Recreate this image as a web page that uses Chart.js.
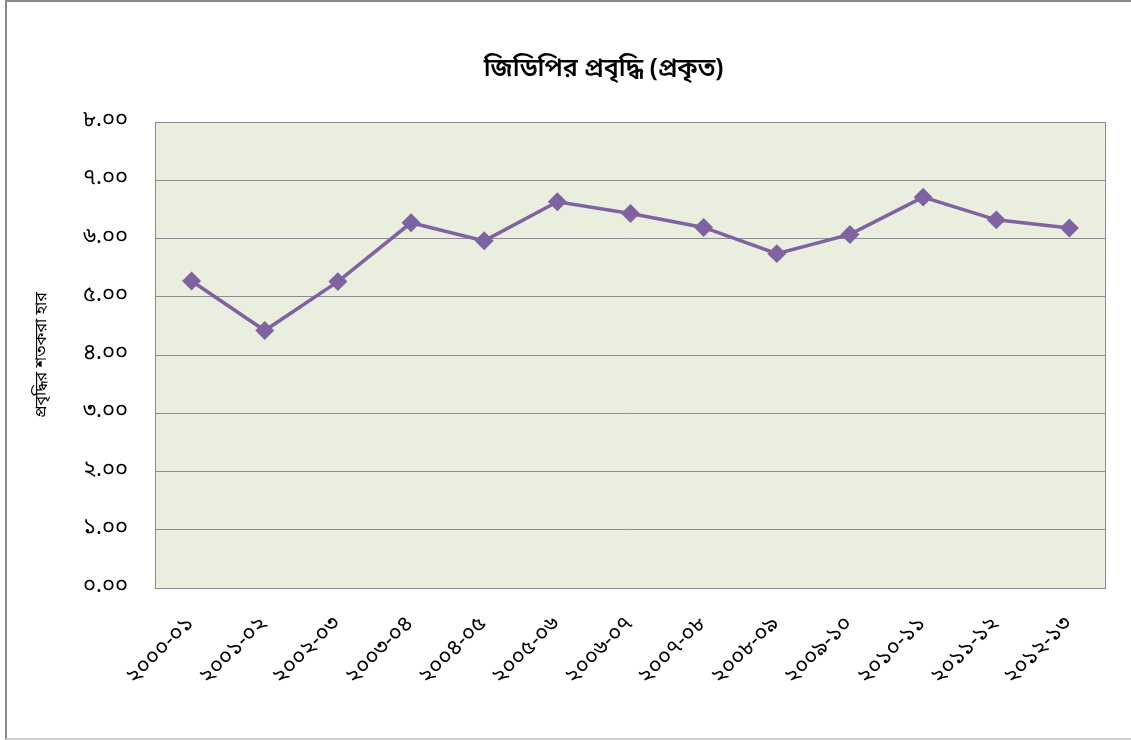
<!DOCTYPE html>
<html>
<head>
<meta charset="utf-8">
<script src="https://cdn.jsdelivr.net/npm/chart.js@4.4.0/dist/chart.umd.min.js"></script>
<style>
  body { margin: 0; background: #fff; }
  #wrap { position: absolute; left: 5px; top: 0; width: 1124px; height: 736px; border: 2px solid #8a8a8a; border-bottom-color: #d0d0d0; background: #fff; }
  canvas { position: absolute; left: 0; top: 0; }
</style>
</head>
<body>
<div id="wrap"><canvas id="lineChart" width="1124" height="736"></canvas></div>
<script>
// years (Bengali) and real GDP growth, %
var years = ['২০০০-০১', '২০০১-০২', '২০০২-০৩', '২০০৩-০৪', '২০০৪-০৫', '২০০৫-০৬', '২০০৬-০৭',
             '২০০৭-০৮', '২০০৮-০৯', '২০০৯-১০', '২০১০-১১', '২০১১-১২', '২০১২-১৩'];
var growth = [5.27, 4.42, 5.26, 6.27, 5.96, 6.63, 6.43, 6.19, 5.74, 6.07, 6.71, 6.32, 6.18];
var yTicks = ['০.০০', '১.০০', '২.০০', '৩.০০', '৪.০০', '৫.০০', '৬.০০', '৭.০০', '৮.০০'];

var chartTitle = 'জিডিপির প্রবৃদ্ধি (প্রকৃত)';
var yTitle = 'প্রবৃদ্ধির শতকরা হার';

var bnFont = "'Noto Sans Bengali', 'Vrinda', 'Noto Sans', 'DejaVu Sans', sans-serif";

// fill the plot area green
var plotBg = {
    id: 'plotBg',
    afterLayout: function (chart) {
        // title sits a bit right of canvas center in the original
        if (chart.titleBlock) {
            chart.titleBlock.left += 34;
            chart.titleBlock.right += 34;
        }
    },
    beforeDraw: function (chart) {
        var a = chart.chartArea, ctx = chart.ctx;
        ctx.save();
        ctx.fillStyle = '#EAEEDF';
        ctx.fillRect(a.left, a.top, a.right - a.left, a.bottom - a.top);
        ctx.restore();
    },
    afterDraw: function (chart) {
        var a = chart.chartArea, ctx = chart.ctx;
        ctx.save();
        ctx.strokeStyle = '#8c8c8c';
        ctx.lineWidth = 1;
        ctx.strokeRect(a.left + 0.5, a.top + 0.5, a.right - a.left - 1, a.bottom - a.top);
        ctx.restore();
    }
};

var ctx = document.getElementById('lineChart').getContext('2d');
new Chart(ctx, {
    type: 'line',
    data: {
        labels: years,
        datasets: [{
            label: 'GDP',
            data: growth,
            borderColor: '#7E62A1',
            backgroundColor: '#7E62A1',
            borderWidth: 3.5,
            pointStyle: 'rectRot',
            pointRadius: 7,
            pointHoverRadius: 7,
            tension: 0
        }]
    },
    options: {
        responsive: false,
        animation: false,
        layout: { padding: { left: 26, right: 25, top: 0, bottom: 30 } },
        plugins: {
            legend: { display: false },
            tooltip: { enabled: false },
            title: {
                display: true,
                text: chartTitle,
                color: '#000',
                font: { family: bnFont, size: 25, weight: '600' },
                padding: { top: 54, bottom: 36 }
            }
        },
        scales: {
            x: {
                offset: true,
                grid: { display: false, drawTicks: false },
                border: { display: false },
                ticks: {
                    color: '#000',
                    font: { family: bnFont, size: 22 },
                    maxRotation: 45,
                    minRotation: 45,
                    padding: 24,
                    autoSkip: false
                },
                afterFit: function (s) { s.height = 120; }
            },
            y: {
                min: 0,
                max: 8,
                grid: { color: '#8c8c8c', drawTicks: false },
                border: { display: false },
                ticks: {
                    stepSize: 1,
                    color: '#000',
                    font: { family: bnFont, size: 22 },
                    padding: 27,
                    callback: function (v) { return yTicks[v]; }
                },
                title: {
                    display: true,
                    text: yTitle,
                    color: '#000',
                    font: { family: bnFont, size: 16 },
                    padding: { top: 0, bottom: 0 }
                },
                afterFit: function (s) { s.width = 122; }
            }
        }
    },
    plugins: [plotBg]
});
</script>
</body>
</html>
